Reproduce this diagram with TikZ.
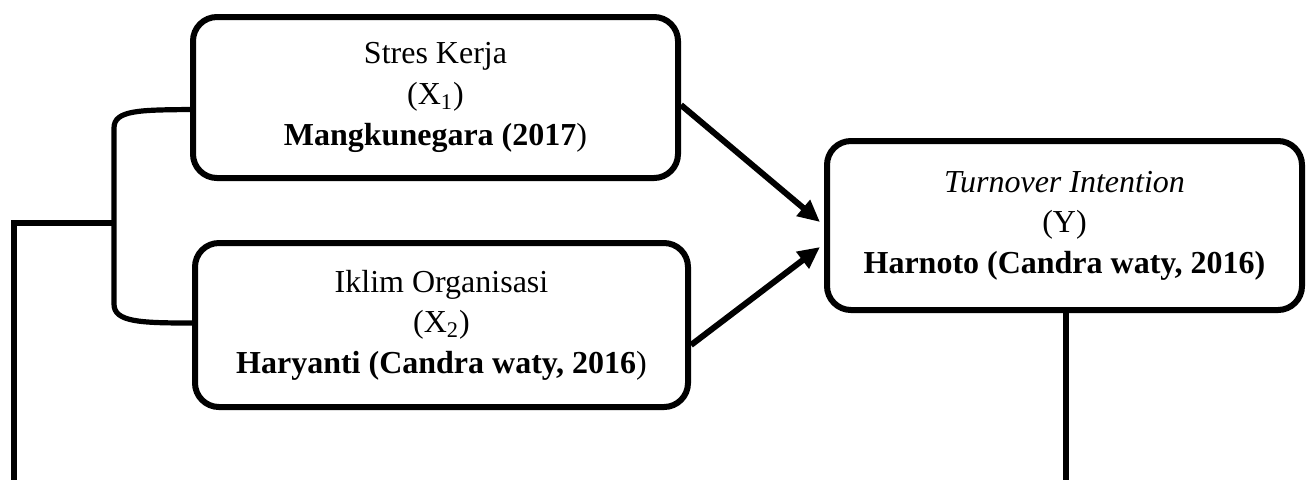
\documentclass[tikz,border=0pt]{standalone}
\usepackage{fontspec}
\setmainfont{Liberation Serif}
\usetikzlibrary{arrows.meta,calc}
\begin{document}
\begin{tikzpicture}[x=0.5pt,y=-0.5pt,
  box/.style={draw, line width=3pt, rounded corners=12pt, align=center,
    font=\fontsize{16pt}{20.3pt}\selectfont, inner sep=0pt},
  conn/.style={line width=2.6pt},
  arr/.style={line width=3pt, -{Triangle[length=11pt,width=10pt]}}]
\useasboundingbox (0,0) rectangle (1306,479);
\node[box, minimum width=242.5pt, minimum height=80.5pt] (b1) at (435.5,97.5)
  {Stres Kerja\\(X\textsubscript{1})\\\textbf{Mangkunegara (2017})};
\node[box, minimum width=246.5pt, minimum height=82pt] (b2) at (441.5,325)
  {Iklim Organisasi\\(X\textsubscript{2})\\\textbf{Haryanti (Candra waty, 2016})};
\node[box, minimum width=237.5pt, minimum height=84.5pt] (b3) at (1064.5,225.5)
  {\textit{Turnover Intention}\\(Y)\\\textbf{Harnoto (Candra waty, 2016)}};
\draw[arr] ([yshift=-3.75pt]b1.east) -- ([xshift=-2pt,yshift=1.75pt]b3.west);
\draw[arr] ([yshift=-10pt]b2.east) -- ([xshift=-2pt,yshift=-10.75pt]b3.west);
\coordinate (t1) at ([yshift=-6pt]b1.west);
\coordinate (t2) at ([yshift=1pt]b2.west);
\coordinate (jn) at (114,223);
\coordinate (le) at (14,223);
\coordinate (lb) at (14,485);
\coordinate (rb) at (1066,485);
\draw[conn] (t1) .. controls (140,110) and (114,110) .. (114,128) -- (114,304)
  .. controls (114,322) and (140,323) .. (t2);
\draw[conn] (jn) -- (le) -- (lb);
\draw[line width=3pt] (b3.south -| rb) -- (rb);
\end{tikzpicture}
\end{document}
